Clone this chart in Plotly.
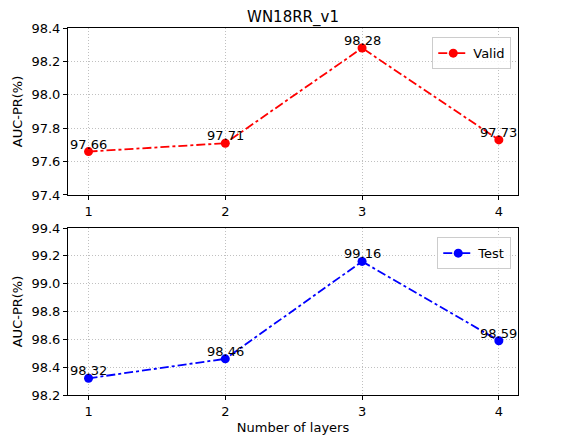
import plotly.graph_objects as go
from plotly.subplots import make_subplots

layers = [1, 2, 3, 4]
valid = [97.66, 97.71, 98.28, 97.73]
test = [98.32, 98.46, 99.16, 98.59]
valid_labels = ["97.66", "97.71", "98.28", "97.73"]
test_labels = ["98.32", "98.46", "99.16", "98.59"]

FONT = "DejaVu Sans"
fig = make_subplots(rows=2, cols=1, vertical_spacing=0.09)

fig.add_trace(go.Scatter(x=layers, y=valid, mode="lines+markers", name="Valid",
                         line=dict(color="red", dash="dashdot", width=1.8),
                         marker=dict(color="red", size=9)), row=1, col=1)
fig.add_trace(go.Scatter(x=layers, y=test, mode="lines+markers", name="Test",
                         line=dict(color="blue", dash="dashdot", width=1.8),
                         marker=dict(color="blue", size=9),
                         legend="legend2"), row=2, col=1)

for xs, ys, labs, xr, yr in [(layers, valid, valid_labels, "x", "y"),
                             (layers, test, test_labels, "x2", "y2")]:
    for xv, yv, lab in zip(xs, ys, labs):
        fig.add_annotation(x=xv, y=yv, xref=xr, yref=yr, text=lab, showarrow=False,
                           xanchor="center", yanchor="bottom", yshift=-2,
                           font=dict(family=FONT, size=13, color="black"))

axis_common = dict(showline=True, linecolor="black", linewidth=1, mirror=True,
                   ticks="outside", ticklen=4, tickcolor="black", automargin=False,
                   showgrid=True, gridcolor="#c0c0c0", griddash="1px,2px", gridwidth=0.8,
                   zeroline=False, tickfont=dict(family=FONT, size=13, color="black"))

fig.update_xaxes(range=[0.85, 4.14], tickvals=layers, **axis_common)
fig.update_yaxes(**axis_common)
fig.update_yaxes(range=[97.4, 98.4], dtick=0.2, tickformat=".1f", row=1, col=1,
                 title=dict(text="AUC-PR(%)", font=dict(family=FONT, size=13, color="black"), standoff=5))
fig.update_yaxes(range=[98.2, 99.4], dtick=0.2, tickformat=".1f", row=2, col=1,
                 title=dict(text="AUC-PR(%)", font=dict(family=FONT, size=13, color="black"), standoff=5))
fig.update_xaxes(row=2, col=1,
                 title=dict(text="Number of layers", font=dict(family=FONT, size=13, color="black"), standoff=5))

fig.update_layout(
    width=570, height=440,
    margin=dict(l=60, r=60, t=20, b=53),
    plot_bgcolor="white", paper_bgcolor="white",
    font=dict(family=FONT, size=13, color="black"),
    title=dict(text="WN18RR_v1", x=0.5, xanchor="center", y=0.993, yanchor="top",
               pad=dict(t=0, b=0),
               font=dict(family=FONT, size=15, color="black")),
    showlegend=True,
    legend=dict(x=0.985, y=0.975, xanchor="right", yanchor="top",
                bordercolor="#cccccc", borderwidth=1, bgcolor="rgba(255,255,255,0.8)",
                font=dict(family=FONT, size=13)),
    legend2=dict(x=0.985, y=0.43, xanchor="right", yanchor="top",
                 bordercolor="#cccccc", borderwidth=1, bgcolor="rgba(255,255,255,0.8)",
                 font=dict(family=FONT, size=13)),
)

fig.write_html("out.html")
